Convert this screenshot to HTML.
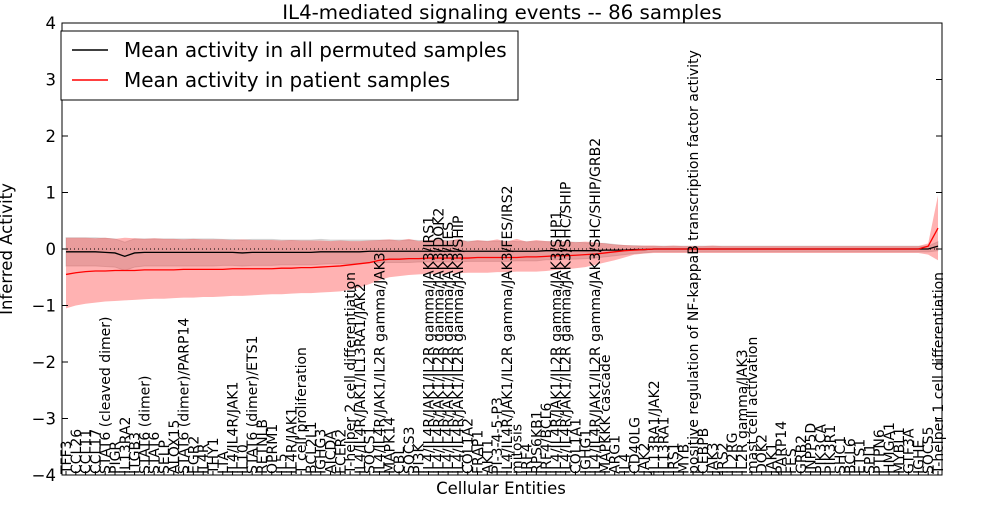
<!DOCTYPE html>
<html><head><meta charset="utf-8"><style>
body{margin:0;background:#fff;width:1000px;height:500px;overflow:hidden}
svg{font-family:"DejaVu Sans","Liberation Sans",sans-serif}
</style></head><body>
<svg id="chart" width="1000" height="500" xmlns="http://www.w3.org/2000/svg">
<text x="502" y="19" text-anchor="middle" font-size="19.8">IL4-mediated signaling events -- 86 samples</text>
<g id="bands"></g>
<g id="axes"></g>
<g id="labels"></g>
<text x="501" y="494" text-anchor="middle" font-size="16.5">Cellular Entities</text>
<text transform="translate(12,249) rotate(-90)" text-anchor="middle" font-size="16.5">Inferred Activity</text>
<g>
<rect x="61" y="31" width="457" height="69" fill="#fff" stroke="#000"/>
<line x1="72" y1="50" x2="108" y2="50" stroke="#000" stroke-width="1.5"/>
<text x="124" y="57" font-size="20">Mean activity in all permuted samples</text>
<line x1="72" y1="80" x2="108" y2="80" stroke="#f00" stroke-width="1.5"/>
<text x="124" y="87" font-size="20">Mean activity in patient samples</text>
</g>
</svg>
<script>
const categories=["TFF3","CCL26","CCL11","CCL17","STAT6 (cleaved dimer)","PIGR","IL13RA2","ITGB3","STAT6 (dimer)","STAT6","SELP","ALOX15","STAT6 (dimer)/PARP14","EGR2","IL4R","THY1","LTA","IL4/IL4R/JAK1","IL10","STAT6 (dimer)/ETS1","RETNLB","OPRM1","IL5","IL4R/JAK1","T cell proliferation","BCL2L1","IGHG3","AICDA","FCER2","T-helper 2 cell differentiation","IL4/IL4R/JAK1/IL13RA1/JAK2","SOCS1","IL4/IL4R/JAK1/IL2R gamma/JAK3","MAPK14","CBL","SOCS3","PI3K","IL4/IL4R/JAK1/IL2R gamma/JAK3/IRS1","IL4/IL4R/JAK1/IL2R gamma/JAK3/DOK2","IL4/IL4R/JAK1/IL2R gamma/JAK3/FES","IL4/IL4R/JAK1/IL2R gamma/JAK3/SHIP","COL1A2","FRAP1","AKT1","PI-3-4-5-P3","IL4/IL4R/JAK1/IL2R gamma/JAK3/FES/IRS2","mitosis","IRF4","RPS6KB1","IRF4/BCL6","IL4/IL4R/JAK1/IL2R gamma/JAK3/SHP1","IL4/IL4R/JAK1/IL2R gamma/JAK3/SHC/SHIP","COL1A1","IGHG1","IL4/IL4R/JAK1/IL2R gamma/JAK3/SHC/SHIP/GRB2","MAPKKK cascade","ARG1","IL4","CD40LG","JAK2","IL13RA1/JAK2","IL13RA1","IRS1","MYB","positive regulation of NF-kappaB transcription factor activity","CEBPB","JAK3","IRS2","IL2RG","IL2R gamma/JAK3","mast cell activation","DOK2","JAK1","PARP14","FES","GRB2","INPP5D","PIK3CA","PIK3R1","SHC1","BCL6","ETS1","SPI1","PTPN6","HMGA1","MYBL1","GTF3A","IGHE","SOCS5","T-helper 1 cell differentiation"];
const redMean=[-0.45,-0.42,-0.40,-0.39,-0.39,-0.38,-0.38,-0.38,-0.37,-0.37,-0.37,-0.37,-0.36,-0.36,-0.36,-0.36,-0.36,-0.35,-0.35,-0.35,-0.35,-0.35,-0.34,-0.34,-0.33,-0.33,-0.32,-0.31,-0.30,-0.28,-0.26,-0.24,-0.20,-0.18,-0.18,-0.17,-0.17,-0.16,-0.16,-0.16,-0.16,-0.16,-0.15,-0.15,-0.15,-0.15,-0.15,-0.14,-0.14,-0.13,-0.12,-0.12,-0.11,-0.10,-0.09,-0.07,-0.05,-0.03,-0.02,-0.01,0,0,0,0,0,0,0,0,0,0,0,0,0,0,0,0,0,0,0,0,0,0,0,0,0,0,0,0,0.05,0.37];
const redUpper=[0.2,0.2,0.2,0.19,0.2,0.18,0.2,0.19,0.18,0.19,0.18,0.18,0.17,0.18,0.17,0.17,0.17,0.16,0.17,0.16,0.16,0.16,0.15,0.16,0.15,0.15,0.15,0.14,0.15,0.14,0.14,0.15,0.16,0.17,0.15,0.18,0.14,0.16,0.17,0.14,0.18,0.13,0.16,0.14,0.17,0.13,0.18,0.13,0.16,0.14,0.13,0.14,0.12,0.13,0.12,0.1,0.08,0.07,0.06,0.06,0.06,0.05,0.06,0.05,0.05,0.05,0.06,0.05,0.05,0.05,0.05,0.05,0.05,0.05,0.05,0.05,0.05,0.05,0.05,0.05,0.05,0.05,0.05,0.05,0.05,0.05,0.05,0.05,0.1,0.95];
const redLower=[-1.05,-1.0,-0.97,-0.95,-0.93,-0.92,-0.91,-0.9,-0.89,-0.88,-0.88,-0.87,-0.86,-0.86,-0.85,-0.85,-0.84,-0.83,-0.83,-0.82,-0.81,-0.8,-0.8,-0.79,-0.78,-0.78,-0.77,-0.76,-0.75,-0.72,-0.68,-0.62,-0.55,-0.5,-0.48,-0.46,-0.45,-0.44,-0.44,-0.43,-0.43,-0.42,-0.42,-0.42,-0.41,-0.41,-0.4,-0.4,-0.4,-0.39,-0.37,-0.36,-0.34,-0.32,-0.28,-0.24,-0.2,-0.15,-0.1,-0.08,-0.07,-0.07,-0.07,-0.07,-0.07,-0.07,-0.07,-0.07,-0.07,-0.07,-0.07,-0.07,-0.07,-0.07,-0.07,-0.07,-0.07,-0.07,-0.07,-0.07,-0.07,-0.07,-0.07,-0.07,-0.07,-0.07,-0.07,-0.07,-0.1,-0.2];
const grayMean=[-0.05,-0.05,-0.05,-0.05,-0.06,-0.07,-0.13,-0.07,-0.06,-0.06,-0.06,-0.06,-0.06,-0.06,-0.06,-0.06,-0.06,-0.06,-0.07,-0.06,-0.06,-0.06,-0.06,-0.06,-0.06,-0.06,-0.05,-0.05,-0.05,-0.05,-0.05,-0.04,-0.04,-0.04,-0.04,-0.04,-0.04,-0.04,-0.04,-0.04,-0.04,-0.04,-0.04,-0.04,-0.04,-0.04,-0.04,-0.04,-0.04,-0.03,-0.03,-0.03,-0.03,-0.03,-0.03,-0.02,-0.02,-0.02,-0.01,-0.01,0,0,0,0,0,0,0,0,0,0,0,0,0,0,0,0,0,0,0,0,0,0,0,0,0,0,0,0,0,0.05];
const grayHalf=[0.25,0.25,0.25,0.25,0.25,0.25,0.25,0.25,0.24,0.24,0.24,0.24,0.24,0.24,0.24,0.24,0.23,0.23,0.23,0.23,0.23,0.23,0.22,0.22,0.22,0.22,0.22,0.21,0.21,0.21,0.21,0.2,0.2,0.2,0.2,0.2,0.19,0.19,0.19,0.19,0.19,0.18,0.18,0.18,0.18,0.18,0.17,0.17,0.17,0.16,0.16,0.15,0.15,0.14,0.13,0.12,0.1,0.08,0.07,0.06,0.05,0.05,0.05,0.05,0.05,0.05,0.05,0.05,0.05,0.05,0.05,0.05,0.05,0.05,0.05,0.05,0.05,0.05,0.05,0.05,0.05,0.05,0.05,0.05,0.05,0.05,0.05,0.05,0.05,0.08];
const yTicks=[4,3,2,1,0,-1,-2,-3,-4];
const yTickLabels=["4","3","2","1","0","\u22121","\u22122","\u22123","\u22124"];
const NS="http://www.w3.org/2000/svg";
const L=62,R=942,T=23,B=475;
const n=categories.length;
function xs(i){return L+4+i*(R-L-8)/(n-1);}
function ys(v){return T+(4-v)*(B-T)/8;}
function mk(tag,attrs,parent){const e=document.createElementNS(NS,tag);for(const k in attrs)e.setAttribute(k,attrs[k]);parent.appendChild(e);return e;}
const bands=document.getElementById('bands'),axes=document.getElementById('axes'),labels=document.getElementById('labels');
function area(up,lo){let d='';for(let i=0;i<n;i++)d+=(i?'L':'M')+xs(i)+','+ys(up(i));for(let i=n-1;i>=0;i--)d+='L'+xs(i)+','+ys(lo(i));return d+'Z';}
function line(f){let d='';for(let i=0;i<n;i++)d+=(i?'L':'M')+xs(i)+','+ys(f(i));return d;}
const g1=mk('path',{d:area(i=>grayMean[i]+grayHalf[i],i=>grayMean[i]-grayHalf[i]),fill:'#bbb','fill-opacity':'0.45',stroke:'#aaa','stroke-opacity':'0.4'},bands);


const r1=mk('path',{d:area(i=>redUpper[i],i=>redLower[i]),fill:'#f00','fill-opacity':'0.3',stroke:'none'},bands);


const z=mk('line',{x1:L,x2:R,y1:ys(0),y2:ys(0),stroke:'#000','stroke-dasharray':'1,3'},bands);


const gl=mk('path',{d:line(i=>grayMean[i]),fill:'none',stroke:'#000','stroke-width':1.3},bands);


const rl=mk('path',{d:line(i=>redMean[i]),fill:'none',stroke:'#f00','stroke-width':1.3},bands);


const fr=mk('rect',{x:L,y:T,width:R-L,height:B-T,fill:'none',stroke:'#000'},axes);


yTicks.forEach((v,k)=>{
  mk('line',{x1:L,x2:L+6,y1:ys(v),y2:ys(v),stroke:'#000'},axes);
  mk('line',{x1:R,x2:R-6,y1:ys(v),y2:ys(v),stroke:'#000'},axes);
  const t=mk('text',{x:L-6,y:ys(v)+6,'text-anchor':'end','font-size':16.5},axes);
  t.textContent=yTickLabels[k];
  
  
});
categories.forEach((c,i)=>{
  const x=xs(i);
  mk('line',{x1:x,x2:x,y1:B,y2:B-4,stroke:'#000'},axes);
  const t=mk('text',{transform:`translate(${x+5},${B-1}) rotate(-90)`,'font-size':14},labels);
  t.textContent=c;
  
  
});
</script>
</body></html>
